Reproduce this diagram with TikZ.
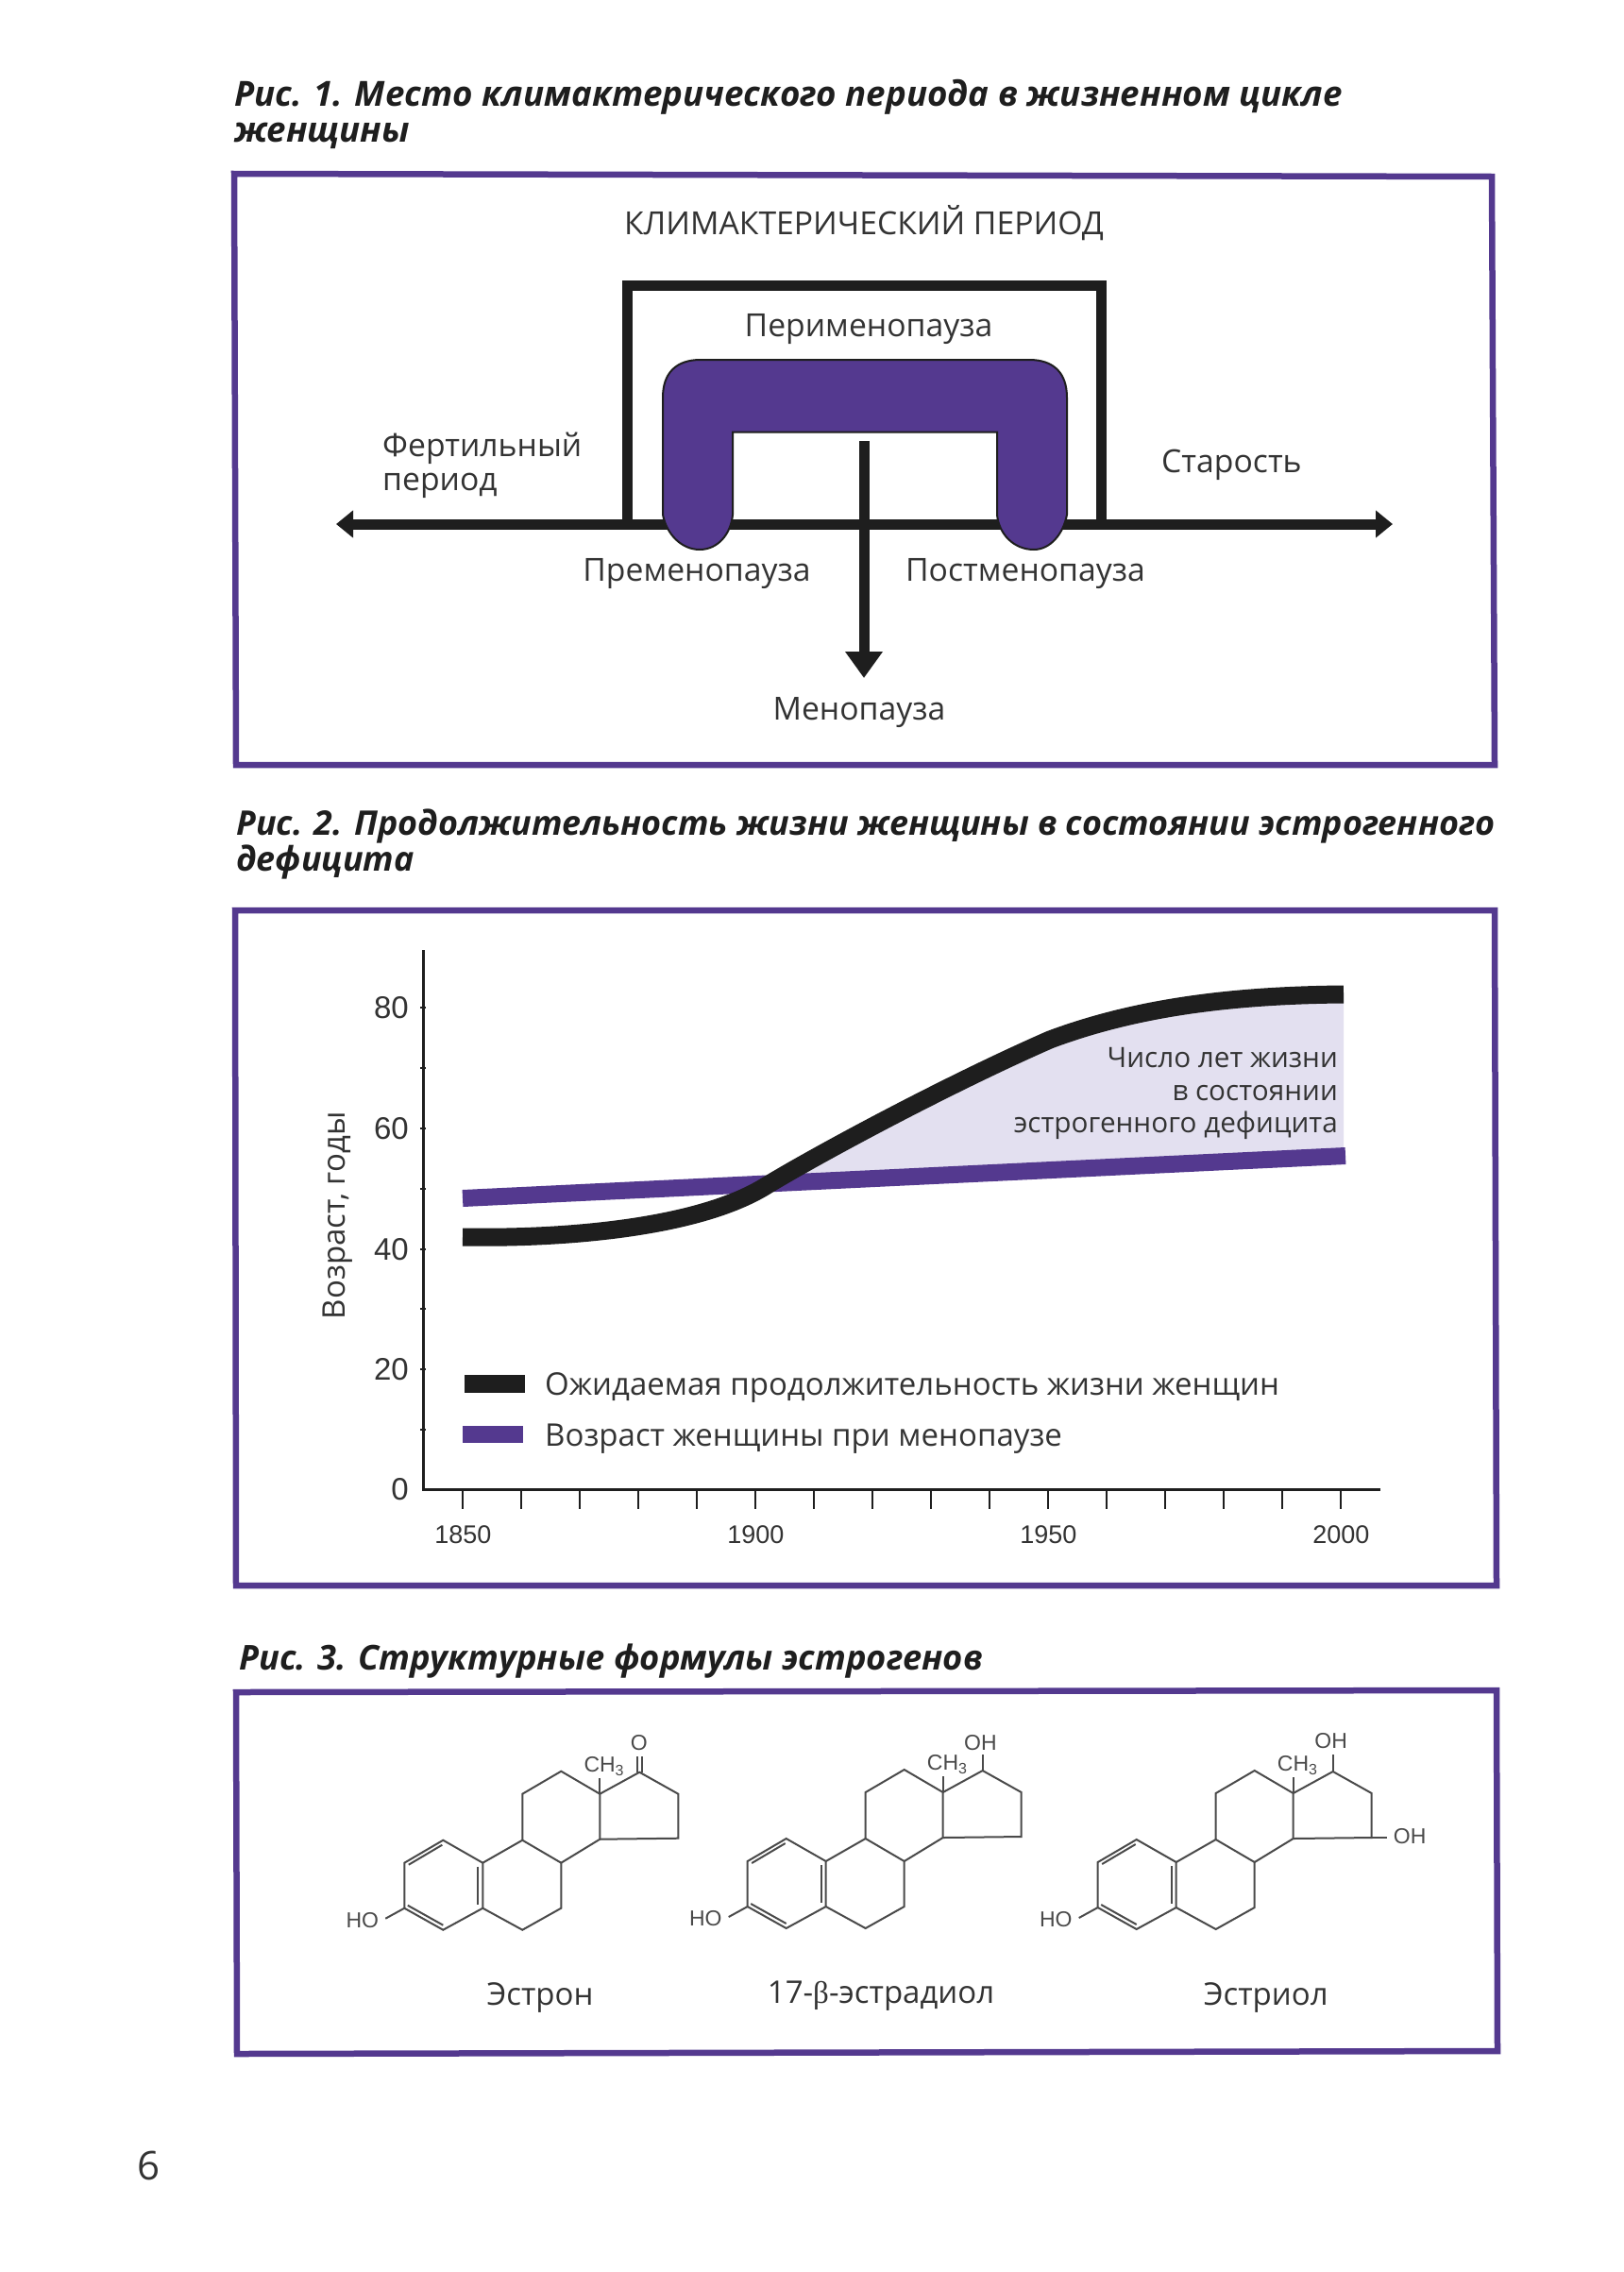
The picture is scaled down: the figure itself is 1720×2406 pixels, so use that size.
\documentclass[tikz,border=0pt]{standalone}
\usepackage{fontspec}
\setmainfont{Open Sans}
\newfontfamily\chartfont{Liberation Sans}
\newfontfamily\greekfont{Liberation Serif}
\usetikzlibrary{arrows.meta}
\definecolor{framepurple}{HTML}{54398F}
\definecolor{barblack}{HTML}{1E1E1E}
\definecolor{deficit}{HTML}{E3E0F0}
\definecolor{textgray}{HTML}{333333}
\definecolor{chemgray}{HTML}{4A4A4A}
\tikzset{
  frameline/.style={framepurple,line width=6.5pt,line join=miter},
  captiontext/.style={font=\bfseries\itshape\fontsize{36}{38}\selectfont,text=barblack,anchor=west,align=left},
  bodytext/.style={font=\fontsize{33.7}{38}\selectfont,text=textgray,text height=31pt,text depth=8pt},
  notetext/.style={font=\fontsize{29.7}{34}\selectfont,text=textgray,text height=27pt,text depth=7pt},
  legendtext/.style={font=\fontsize{33}{36}\selectfont,text=textgray,text height=30pt,text depth=8pt},
  axisline/.style={barblack,line width=3pt},
  ticknum/.style={font=\chartfont\fontsize{27}{30}\selectfont,text=textgray},
  bond/.style={chemgray,line width=2pt,line join=miter},
  chemtext/.style={font=\chartfont\fontsize{23}{26}\selectfont,text=chemgray},
  steroid/.pic={
    \coordinate (-c3) at (0,0);
    \coordinate (-c17) at (249,-144);
    \coordinate (-c15) at (290,-74);
    \draw[bond] (0,0) -- (0,-48) -- (41,-72) -- (83,-48) -- (83,0) -- (41,23) -- cycle;
    \draw[bond] (4.5,-46) -- (40,-67);
    \draw[bond] (78,-44) -- (78,-4);
    \draw[bond] (3.5,-3) -- (41,18);
    \draw[bond] (83,-48) -- (125,-72) -- (166,-48) -- (166,0) -- (125,23) -- (83,0);
    \draw[bond] (125,-72) -- (125,-121) -- (166,-145) -- (207,-121) -- (207,-73) -- (166,-48);
    \draw[bond] (207,-121) -- (249,-144) -- (290,-121) -- (290,-74) -- (207,-73);
    \draw[bond] (207,-121) -- (207,-138);
    \draw[bond] (-20,11) -- (0,0);
    \node[chemtext,anchor=east] (-ho) at (-27,13) {HO};
    \node[chemtext,anchor=west] (-me) at (190,-150) {CH\raisebox{-4pt}{\fontsize{16}{16}\selectfont 3}};
  }
}
\begin{document}
\begin{tikzpicture}[x=1pt,y=-1pt,inner sep=0pt]
\useasboundingbox (0,0) rectangle (1720,2406);
\fill[white] (0,0) rectangle (1720,2406);

% figure 1
\node[captiontext,font=\bfseries\itshape\fontsize{36.7}{38}\selectfont] (capone) at (248,121) {Рис. 1. Место климактерического периода в жизненном цикле\\женщины};
\draw[frameline] (248,184) -- (1580,187) -- (1583,810) -- (250,810) -- cycle;
\node[bodytext] (climax) at (915,237) {КЛИМАКТЕРИЧЕСКИЙ ПЕРИОД};

\coordinate (lifeleft) at (356,555);
\coordinate (liferight) at (1475,555);
\draw[barblack,line width=11pt,{Triangle[length=18pt,width=28pt]}-{Triangle[length=18pt,width=28pt]}] (lifeleft) -- (liferight);
\draw[barblack,line width=11pt] (664.5,555) -- (664.5,302) -- (1166,302) -- (1166,555);
\draw[fill=framepurple,draw=barblack,line width=2pt]
  (702,545) -- (702,421) .. controls (702,395) and (716,381) .. (742,381)
  -- (1090,381) .. controls (1116,381) and (1130,395) .. (1130,421)
  -- (1130,545) .. controls (1126,566) and (1112,582) .. (1095,582)
  .. controls (1074,582) and (1058,566) .. (1056,545) -- (1056,457.5) -- (776,457.5) -- (776,545)
  .. controls (774,566) and (760,582) .. (741,582) .. controls (722,582) and (706,566) .. (702,545) -- cycle;
\coordinate (menotop) at (915,467);
\coordinate (menotip) at (915,718);
\draw[barblack,line width=11pt,-{Triangle[length=28pt,width=38pt]}] (menotop) -- (menotip);

\node[bodytext] (peri) at (920,345) {Перименопауза};
\node[bodytext,anchor=west] (fert) at (405,472) {Фертильный};
\node[bodytext,anchor=west] (fertb) at (405,508) {период};
\node[bodytext,anchor=west] (old) at (1230,489) {Старость};
\node[bodytext] (premeno) at (738,604) {Пременопауза};
\node[bodytext] (postmeno) at (1086,604) {Постменопауза};
\node[bodytext] (meno) at (910,751) {Менопауза};

% figure 2
\node[captiontext,font=\bfseries\itshape\fontsize{35.9}{38}\selectfont] (captwo) at (250,894) {Рис. 2. Продолжительность жизни женщины в состоянии эстрогенного\\дефицита};
\draw[frameline] (249,964) -- (1583,964) -- (1585,1679) -- (250,1679) -- cycle;

\def\lifeupper{(811,1256) .. controls (860,1226) and (1000,1150) .. (1112,1101) .. controls (1200,1068) and (1300,1054) .. (1423,1053)}
\fill[deficit] \lifeupper -- (1423,1224) -- (811,1252) -- cycle;
\draw[framepurple,line width=18pt] (490,1269) -- (1425,1224);
\draw[barblack,line width=19pt] (490,1310) .. controls (600,1312) and (740,1300) .. \lifeupper;

\draw[axisline] (448,1006) -- (448,1577) -- (1462,1577);
\foreach \y/\v in {1067/80,1195/60,1323/40,1450/20,1577/0}
  \node[ticknum,anchor=east,font=\chartfont\fontsize{33}{35}\selectfont] (age\v) at (433,\y) {\v};
\foreach \y in {1067,1131,1195,1259,1323,1386,1450,1514}
  \draw[axisline,line width=2pt] (445,\y) -- (451,\y);
\foreach \i in {0,...,15}
  \draw[axisline,line width=2pt] ({490.4+62*\i},1577) -- ({490.4+62*\i},1598);
\foreach \i/\v in {0/1850,5/1900,10/1950,15/2000}
  \node[ticknum] (year\v) at ({490.4+62*\i},1625) {\v};
\node[legendtext,rotate=90] (agelabel) at (354,1287) {Возраст, годы};

\node[notetext,anchor=east] (notea) at (1417,1120) {Число лет жизни};
\node[notetext,anchor=east] (noteb) at (1417,1155) {в состоянии};
\node[notetext,anchor=east] (notec) at (1417,1189) {эстрогенного дефицита};

\fill[barblack] (492,1456) rectangle (556,1475);
\fill[framepurple] (490,1510) rectangle (554,1528);
\node[legendtext,anchor=west] (legenda) at (577,1466) {Ожидаемая продолжительность жизни женщин};
\node[legendtext,anchor=west] (legendb) at (577,1520) {Возраст женщины при менопаузе};

% figure 3
\node[captiontext,font=\bfseries\itshape\fontsize{36.3}{38}\selectfont] (capthree) at (253,1759) {Рис. 3. Структурные формулы эстрогенов};
\draw[frameline] (250,1792) -- (1585,1790) -- (1586,2172) -- (251,2175) -- cycle;

\pic (estrone) at (428.3,2020.7) {steroid};
\draw[bond] ([xshift=-2.2pt]estrone-c17) -- ++(0,-17);
\draw[bond] ([xshift=2.2pt]estrone-c17) -- ++(0,-17);
\node[chemtext] (estroneo) at (676.7,1845.7) {O};

\pic (estradiol) at (791.7,2019) {steroid};
\draw[bond] (estradiol-c17) -- ++(0,-17);
\node[chemtext] (estradiolo) at (1038.4,1846) {OH};

\pic (estriol) at (1162.7,2020) {steroid};
\draw[bond] (estriol-c17) -- ++(0,-18);
\node[chemtext] (estriolo) at (1409.7,1844) {OH};
\draw[bond] (estriol-c15) -- ++(16,0);
\node[chemtext,anchor=west] (estriolr) at (1475.7,1945) {OH};

\node[legendtext] (nameone) at (572,2112) {Эстрон};
\node[legendtext] (nametwo) at (933,2110) {17-{\greekfont β}-эстрадиол};
\node[legendtext] (namethree) at (1340.7,2112) {Эстриол};

\node[font=\fontsize{42}{44}\selectfont,text=textgray] (pagenum) at (158,2293) {6};
\end{tikzpicture}
\end{document}
